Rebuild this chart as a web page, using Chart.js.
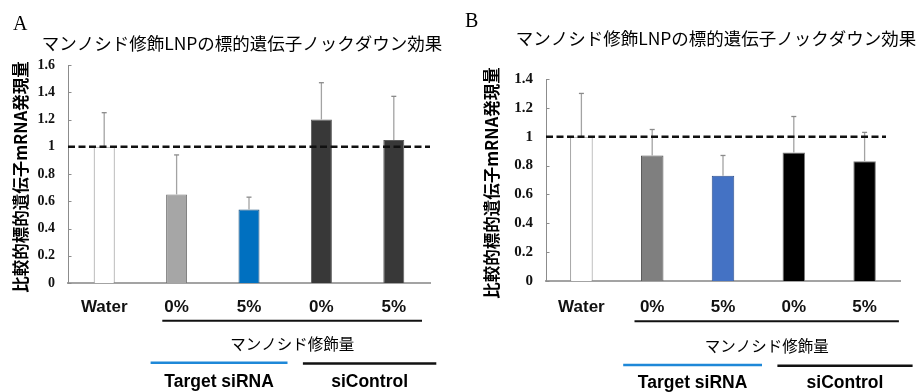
<!DOCTYPE html>
<html>
<head>
<meta charset="utf-8">
<script src="https://cdn.jsdelivr.net/npm/chart.js@4"></script>
<style>
  html, body { margin: 0; padding: 0; background: #fff; }
  #wrap { position: relative; width: 921px; height: 392px; overflow: hidden; background: #fff; }
  canvas { position: absolute; top: 0; }
  #cA { left: 0; }
  #cB { left: 460px; }
</style>
</head>
<body>
<div id="wrap">
  <canvas id="cA" width="460" height="392"></canvas>
  <canvas id="cB" width="461" height="392"></canvas>
</div>
<script>
// ---- data ----
const categories = ['Water', '0%', '5%', '0%', '5%'];
const meanA = [1.00, 0.65, 0.54, 1.20, 1.05];
const sdA   = [0.25, 0.29, 0.09, 0.27, 0.32];
const meanB = [1.00, 0.87, 0.73, 0.89, 0.83];
const sdB   = [0.30, 0.18, 0.14, 0.25, 0.20];
const yTicksA = [0, 0.2, 0.4, 0.6, 0.8, 1, 1.2, 1.4, 1.6];
const yTicksB = [0, 0.2, 0.4, 0.6, 0.8, 1, 1.2, 1.4];
const referenceLevel = 1;
const titleText = 'マンノシド修飾LNPの標的遺伝子ノックダウン効果';
const yTitleText = '比較的標的遺伝子mRNA発現量';
const modLabel = 'マンノシド修飾量';
const groupLabels = ['Target siRNA', 'siControl'];

// ---- styling per panel ----
const panelA = {
  letter: 'A', letterX: 13, letterY: 25,
  titleX: 242, titleY: 43, titleSize: 17.5,
  yTitleX: 21,
  axisWidth: 68, padRight: 30, padTop: 65, xHeight: 109,
  barPct: 0.29, tickSize: 14, xPad: 14, dashTrim: 0,
  fill:   ['#ffffff', '#a6a6a6', '#0070c0', '#383838', '#383838'],
  border: ['#8c8c8c', '#737373', '#1f4f7a', '#5c5c5c', '#5c5c5c'],
  modLine: [-14.3, 28.2], modLineY: 320.7, modTextY: 344,
  blueLine: [-26, 38.5], blackLine: [-18.5, 42.5], groupLineY: 362.7, groupTextY: 381.7
};
const panelB = {
  letter: 'B', letterX: 5, letterY: 22,
  titleX: 256, titleY: 38, titleSize: 17.5,
  yTitleX: 31.7,
  axisWidth: 86, padRight: 21, padTop: 79, xHeight: 111,
  barPct: 0.318, tickSize: 15, xPad: 16, dashTrim: 14,
  fill:   ['#ffffff', '#7f7f7f', '#4472c4', '#000000', '#000000'],
  border: ['#8c8c8c', '#505050', '#2f528f', '#7a7a7a', '#7a7a7a'],
  modLine: [-17.7, 34.3], modLineY: 321.3, modTextY: 346,
  blueLine: [-29, 39], blackLine: [-16.4, 48], groupLineY: 365, groupTextY: 383.3
};

const CJK = '"Noto Sans CJK JP", "Noto Sans CJK SC", sans-serif';

// draws error bars, reference line, inside tick marks and the annotation text
const decorPlugin = {
  id: 'decor',
  afterDatasetsDraw(chart, args, opts) {
    const ctx = chart.ctx;
    const y = chart.scales.y;
    const area = chart.chartArea;
    const meta = chart.getDatasetMeta(0);
    const sd = opts.sd, mean = opts.mean;
    ctx.save();
    // error bars (upper only)
    meta.data.forEach((bar, i) => {
      const cx = bar.x;
      const yTop = y.getPixelForValue(mean[i] + sd[i]);
      const yBase = y.getPixelForValue(mean[i]);
      ctx.strokeStyle = '#a3a3a3';
      ctx.lineWidth = 1.3;
      ctx.beginPath();
      ctx.moveTo(cx, yBase);
      ctx.lineTo(cx, yTop);
      ctx.stroke();
      ctx.strokeStyle = '#8a8a8a';
      ctx.beginPath();
      ctx.moveTo(cx - 2.5, yTop);
      ctx.lineTo(cx + 2.5, yTop);
      ctx.stroke();
    });
    // inside tick marks on the value axis
    ctx.strokeStyle = '#8c8c8c';
    ctx.lineWidth = 1;
    y.ticks.forEach(t => {
      const py = Math.round(y.getPixelForValue(t.value)) + 0.5;
      ctx.beginPath();
      ctx.moveTo(area.left, py);
      ctx.lineTo(area.left + 3.5, py);
      ctx.stroke();
    });
    // dashed reference line
    const ry = y.getPixelForValue(referenceLevel);
    ctx.strokeStyle = '#111111';
    ctx.lineWidth = 2.5;
    ctx.setLineDash([7, 3.5]);
    ctx.beginPath();
    ctx.moveTo(area.left, ry);
    ctx.lineTo(area.right - opts.p.dashTrim, ry);
    ctx.stroke();
    ctx.restore();
  },
  afterDraw(chart, args, opts) {
    const ctx = chart.ctx;
    const p = opts.p;
    const x = chart.scales.x;
    const c = i => x.getPixelForValue(i);
    ctx.save();
    // panel letter
    ctx.fillStyle = '#000';
    ctx.textBaseline = 'middle';
    ctx.textAlign = 'left';
    ctx.font = '20px "Liberation Serif", "Times New Roman", serif';
    ctx.fillText(p.letter, p.letterX, p.letterY);
    // title
    ctx.textAlign = 'center';
    ctx.font = p.titleSize + 'px ' + CJK;
    ctx.fillText(titleText, p.titleX, p.titleY);
    // rotated value-axis title
    const area = chart.chartArea;
    ctx.save();
    ctx.translate(p.yTitleX, (area.top + area.bottom) / 2 + 3);
    ctx.rotate(-Math.PI / 2);
    ctx.font = 'bold 16.5px ' + CJK;
    ctx.fillText(yTitleText, 0, 0);
    ctx.restore();
    // bracket line under the modified groups
    ctx.strokeStyle = '#111';
    ctx.lineWidth = 2;
    ctx.beginPath();
    ctx.moveTo(c(1) + p.modLine[0], p.modLineY);
    ctx.lineTo(c(4) + p.modLine[1], p.modLineY);
    ctx.stroke();
    ctx.font = '15.5px ' + CJK;
    ctx.fillText(modLabel, (c(1) + p.modLine[0] + c(4) + p.modLine[1]) / 2, p.modTextY);
    // group lines
    ctx.lineWidth = 2.5;
    ctx.strokeStyle = '#1e88d8';
    const b0 = c(1) + p.blueLine[0], b1 = c(2) + p.blueLine[1];
    ctx.beginPath(); ctx.moveTo(b0, p.groupLineY); ctx.lineTo(b1, p.groupLineY); ctx.stroke();
    ctx.strokeStyle = '#111';
    const k0 = c(3) + p.blackLine[0], k1 = c(4) + p.blackLine[1];
    ctx.beginPath(); ctx.moveTo(k0, p.groupLineY + 0.7); ctx.lineTo(k1, p.groupLineY + 0.7); ctx.stroke();
    ctx.font = 'bold 17.5px "Liberation Sans", Arial, sans-serif';
    ctx.fillText(groupLabels[0], (b0 + b1) / 2, p.groupTextY);
    ctx.fillText(groupLabels[1], (k0 + k1) / 2, p.groupTextY);
    ctx.restore();
  }
};

function buildPanel(id, mean, sd, yTicks, p) {
  const yMax = yTicks[yTicks.length - 1];
  return new Chart(document.getElementById(id), {
    type: 'bar',
    data: {
      labels: categories,
      datasets: [{
        data: mean,
        backgroundColor: p.fill,
        borderColor: p.border,
        borderWidth: 1,
        borderSkipped: 'bottom',
        categoryPercentage: 1,
        barPercentage: p.barPct
      }]
    },
    options: {
      responsive: false,
      animation: false,
      devicePixelRatio: 1,
      layout: { padding: { left: 0, right: p.padRight, top: p.padTop, bottom: 0 } },
      plugins: {
        legend: { display: false },
        tooltip: { enabled: false },
        title: { display: false },
        decor: { p: p, mean: mean, sd: sd }
      },
      scales: {
        x: {
          grid: { display: false, drawTicks: false },
          border: { display: true, color: '#a3a3a3', width: 2 },
          ticks: {
            color: '#111',
            padding: p.xPad,
            maxRotation: 0,
            font: { family: '"Liberation Sans", Arial, sans-serif', size: 17, weight: 'bold' }
          },
          afterFit(s) { s.height = p.xHeight; }
        },
        y: {
          min: 0, max: yMax,
          grid: { display: false, drawTicks: false },
          border: { display: true, color: '#8c8c8c', width: 1 },
          afterBuildTicks(s) { s.ticks = yTicks.map(v => ({ value: v })); },
          ticks: {
            color: '#111',
            padding: 13,
            font: { family: '"Liberation Serif", "Times New Roman", serif', size: p.tickSize, weight: 'bold' },
            callback: v => String(Number(v.toFixed(1)))
          },
          afterFit(s) { s.width = p.axisWidth; }
        }
      }
    },
    plugins: [decorPlugin]
  });
}

function start() {
  buildPanel('cA', meanA, sdA, yTicksA, panelA);
  buildPanel('cB', meanB, sdB, yTicksB, panelB);
}
const fontLoads = [
  '15px "Noto Sans CJK JP"', 'bold 15px "Noto Sans CJK JP"',
  'bold 16px "Liberation Sans"', 'bold 13px "Liberation Serif"', '20px "Liberation Serif"'
].map(f => document.fonts.load(f, '比A'));
Promise.all(fontLoads).then(start, start);
</script>
</body>
</html>
